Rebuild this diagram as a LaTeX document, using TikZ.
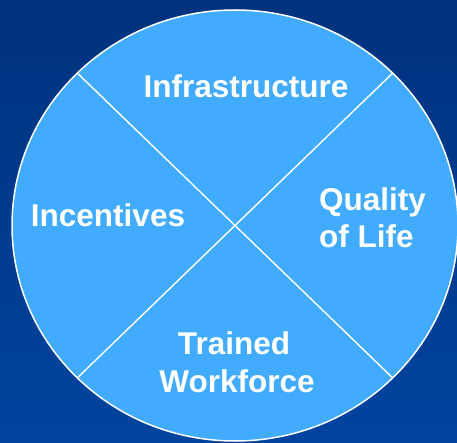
\documentclass[tikz,border=0pt]{standalone}
\usepackage{fontspec}
\usetikzlibrary{calc}
\setmainfont{Liberation Sans}
\definecolor{bgtop}{RGB}{0,50,125}
\definecolor{bgbot}{RGB}{0,68,160}
\definecolor{disk}{RGB}{64,171,255}
\tikzset{
  label/.style={text=white, font=\bfseries\fontsize{31.5}{37}\selectfont, inner sep=0pt},
  divider/.style={draw=white, line width=1.4pt},
}
\begin{document}
\begin{tikzpicture}[x=1pt,y=1pt]
  \shade[top color=bgtop, bottom color=bgbot] (0,0) rectangle (457,442);
  \useasboundingbox (0,0) rectangle (457,442);
  \coordinate (c) at (235,216.5);
  \fill[disk, draw=white, line width=1.5pt] (c) ellipse [x radius=223, y radius=215.5];
  \coordinate (ne) at ($(c)+(157.7,152.4)$);
  \coordinate (nw) at ($(c)+(-157.7,152.4)$);
  \coordinate (sw) at ($(c)+(-157.7,-152.4)$);
  \coordinate (se) at ($(c)+(157.7,-152.4)$);
  \draw[divider] (nw) -- (se);
  \draw[divider] (ne) -- (sw);
  \node[label, anchor=base] (infra) at (246,344) {Infrastructure};
  \node[label, anchor=base] (incent) at (108,215) {Incentives};
  \node[label, anchor=base west] (qual) at (319,231) {Quality};
  \node[label, anchor=base west] (life) at (319,194) {of Life};
  \node[label, anchor=base] (trained) at (234,88) {Trained};
  \node[label, anchor=base] (work) at (237,50) {Workforce};
\end{tikzpicture}
\end{document}
